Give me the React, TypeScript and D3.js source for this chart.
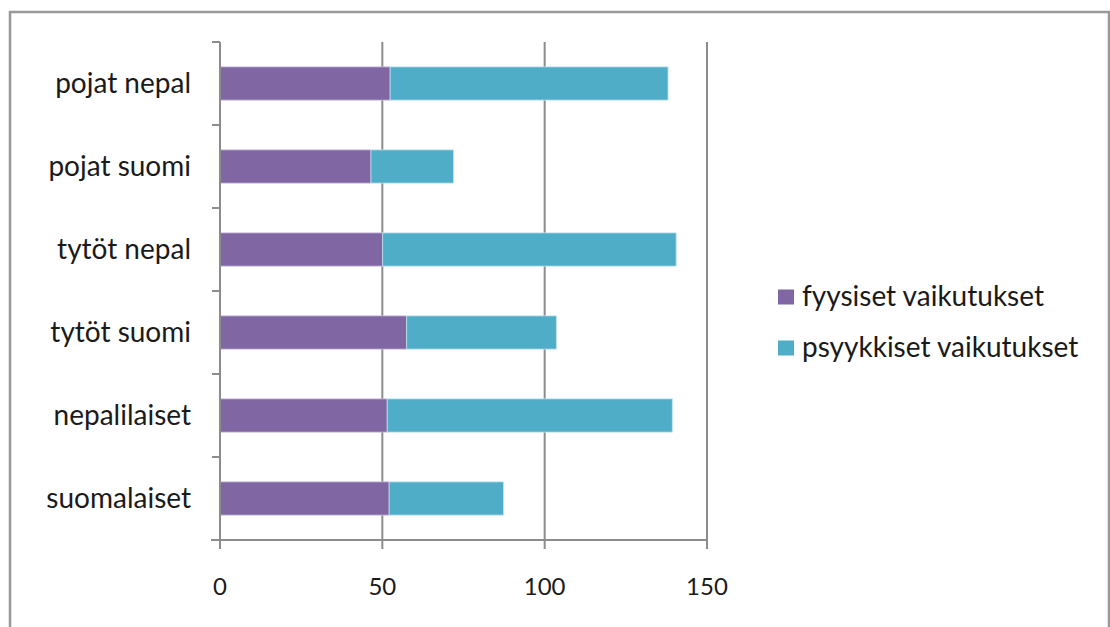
import React from "react";
import * as d3 from "d3";

const categories = ["pojat nepal", "pojat suomi", "tytöt nepal", "tytöt suomi", "nepalilaiset", "suomalaiset"];
const fyysiset = [52.4, 46.5, 50.1, 57.5, 51.5, 52.1];
const psyykkiset = [85.6, 25.4, 90.4, 46.1, 87.8, 35.2];
const seriesNames = ["fyysiset vaikutukset", "psyykkiset vaikutukset"];
const xTicks = [0, 50, 100, 150];
const colors = ["#8066A3", "#4FADC8"];

export default function App() {
  const W = 1110, H = 627;
  const left = 220, right = 707, top = 42, bottom = 540;
  const x = d3.scaleLinear().domain([0, 150]).range([left, right]);
  const y = d3.scaleBand().domain(categories).range([top, bottom]).paddingInner(0.6).paddingOuter(0.3);
  const band = (bottom - top) / categories.length;
  const font = "Lato, 'Open Sans', sans-serif";
  const stacked = categories.map((c, i) => ({ c, a: fyysiset[i], b: psyykkiset[i] }));
  return (
    <svg width={W} height={H} style={{ position: "absolute", left: 0, top: 0 }} fontFamily={font}>
      <rect x={0} y={0} width={W} height={H} fill="#fff" />
      <rect x={10} y={12} width={W - 11} height={H} fill="none" stroke="#999" strokeWidth={2.5} />
      {xTicks.slice(1).map((t) => (
        <line key={t} x1={x(t)} x2={x(t)} y1={top} y2={bottom} stroke="#8c8c8c" strokeWidth={2} />
      ))}
      {stacked.map((d) => (
        <g key={d.c}>
          <rect x={x(0)} y={y(d.c)} width={x(d.a) - x(0)} height={y.bandwidth()} fill={colors[0]} stroke="#c9bcd9" strokeWidth={0.8} />
          <rect x={x(d.a)} y={y(d.c)} width={x(d.a + d.b) - x(d.a)} height={y.bandwidth()} fill={colors[1]} stroke="#bfe3ee" strokeWidth={0.8} />
        </g>
      ))}
      <line x1={left} x2={left} y1={top} y2={bottom} stroke="#8c8c8c" strokeWidth={2} />
      {d3.range(categories.length + 1).map((i) => (
        <line key={i} x1={left - 8} x2={left} y1={top + i * band} y2={top + i * band} stroke="#8c8c8c" strokeWidth={2} />
      ))}
      <line x1={left - 9} x2={right} y1={bottom} y2={bottom} stroke="#8c8c8c" strokeWidth={2} />
      {xTicks.map((t) => (
        <g key={t}>
          <line x1={x(t)} x2={x(t)} y1={bottom} y2={bottom + 9} stroke="#8c8c8c" strokeWidth={2} />
          <text x={x(t)} y={595} textAnchor="middle" fontSize={24} fill="#1a1a1a">{t}</text>
        </g>
      ))}
      {categories.map((c) => (
        <text key={c} x={191} y={(y(c) as number) + y.bandwidth() / 2} dy="0.33em" textAnchor="end" fontSize={28} fill="#1a1a1a">{c}</text>
      ))}
      {seriesNames.map((s, i) => (
        <g key={s} transform={`translate(778, ${297 + i * 51})`}>
          <rect x={0} y={-7.5} width={16} height={15} fill={colors[i]} />
          <text x={24} y={0} dy="0.33em" fontSize={28} fill="#1a1a1a">{s}</text>
        </g>
      ))}
    </svg>
  );
}
